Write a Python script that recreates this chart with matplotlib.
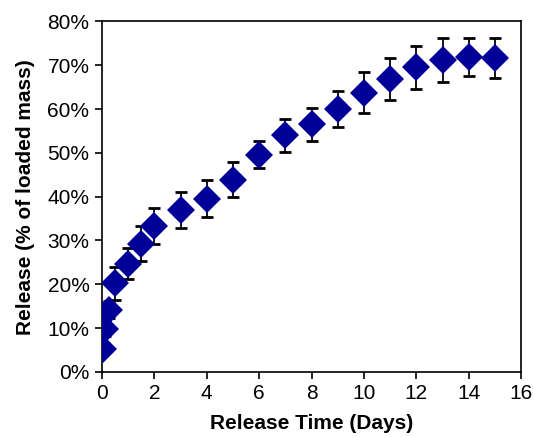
import numpy as np
import matplotlib
matplotlib.use('Agg')
import matplotlib.pyplot as plt
from matplotlib.ticker import FuncFormatter

# release time (days), mean release (%), error (%)
days = [0.04, 0.1, 0.25, 0.5, 1, 1.5, 2, 3, 4, 5, 6, 7, 8, 9, 10, 11, 12, 13, 14, 15]
release = [5.3, 9.8, 14.2, 20.2, 24.7, 29.3, 33.3, 37.0, 39.5, 43.9, 49.6, 54.0, 56.5, 60.0,
           63.7, 66.9, 69.5, 71.1, 71.9, 71.6]
err = [1.0, 1.5, 2.0, 3.7, 3.6, 4.0, 4.2, 4.1, 4.2, 3.9, 3.1, 3.8, 3.8, 4.2,
       4.7, 4.8, 4.9, 5.0, 4.4, 4.6]

plt.rcParams['font.family'] = ['Liberation Sans', 'DejaVu Sans']

fig = plt.figure(figsize=(5.34, 4.37), dpi=100)
ax = fig.add_axes([0.191, 0.149, 0.785, 0.802])

ax.errorbar(days, release, yerr=err, fmt='none', ecolor='black',
            elinewidth=1.3, capsize=4, capthick=2, zorder=2)
ax.plot(days, release, 'D', color='#000099', markersize=14,
        markeredgewidth=0, zorder=3)

ax.set_xlim(0, 16)
ax.set_ylim(0, 80)
ax.set_xticks(np.arange(0, 17, 2))
ax.set_yticks(np.arange(0, 81, 10))
ax.yaxis.set_major_formatter(FuncFormatter(lambda v, p: '{:d}%'.format(int(v))))
ax.tick_params(direction='out', length=5, width=1.2, labelsize=15, pad=4)
for s in ax.spines.values():
    s.set_linewidth(1.2)

ax.set_xlabel('Release Time (Days)', fontsize=15, fontweight='bold', labelpad=8)
ax.set_ylabel('Release (% of loaded mass)', fontsize=15, fontweight='bold', labelpad=9)

fig.savefig('out.png', dpi=100)
